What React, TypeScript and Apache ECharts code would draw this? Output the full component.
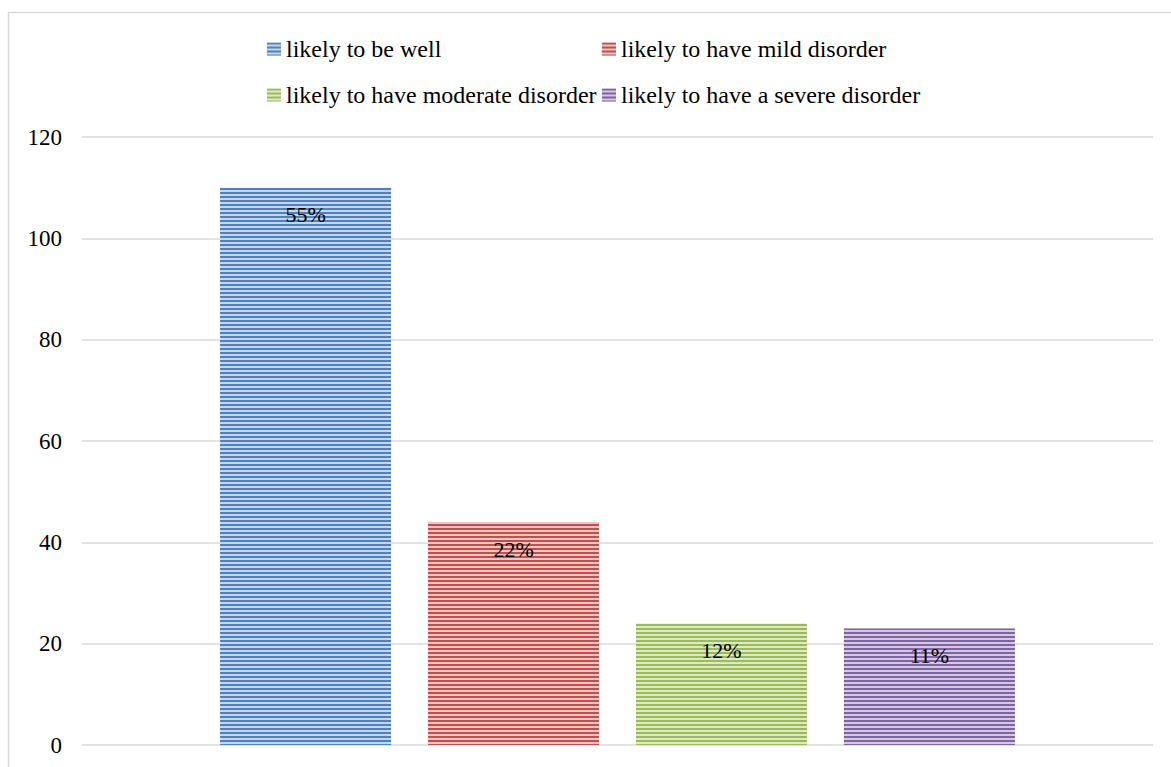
import React, { useEffect, useRef } from "react";
import * as echarts from "echarts";

const seriesNames = [
  "likely to be well",
  "likely to have mild disorder",
  "likely to have moderate disorder",
  "likely to have a severe disorder",
];
const values = [110, 44, 24, 23];
const percentLabels = ["55%", "22%", "12%", "11%"];
const darkColors = ["#4f81bd", "#c0504d", "#9bbb59", "#8064a2"];
const lightColors = ["#c5d5ea", "#ecc6c5", "#dde8c7", "#d4cae0"];
const yTicks = { min: 0, max: 120, interval: 20 };

const FONT = "Liberation Serif";

const legendPos = [
  { left: 267, top: 37 },
  { left: 602, top: 37 },
  { left: 267, top: 83 },
  { left: 602, top: 83 },
];

export default function App() {
  const ref = useRef<HTMLDivElement>(null);
  useEffect(() => {
    if (!ref.current) return;
    const chart = echarts.init(ref.current, undefined, { renderer: "svg" });
    const legTxt = { fontFamily: FONT, fontSize: 24, color: "#000", fontWeight: "normal" };
    chart.setOption({
      animation: false,
      backgroundColor: "#ffffff",
      textStyle: { fontFamily: FONT, color: "#000" },
      graphic: [
        {
          type: "rect",
          shape: { x: 8.5, y: 12.5, width: 1250, height: 850 },
          style: { fill: "none", stroke: "#d9d9d9", lineWidth: 1.5 },
          silent: true,
          z: 0,
        },
      ],
      legend: seriesNames.map((n, i) => ({
        data: [n],
        left: legendPos[i].left,
        top: legendPos[i].top,
        padding: 0,
        itemWidth: 14,
        itemHeight: 13,
        icon: "rect",
        selectedMode: false,
        textStyle: legTxt,
      })),
      grid: { left: 82, right: 18, top: 137, bottom: 22 },
      xAxis: {
        type: "category",
        data: [""],
        axisLine: { show: false },
        axisTick: { show: false },
        axisLabel: { show: false },
      },
      yAxis: {
        type: "value",
        min: yTicks.min,
        max: yTicks.max,
        interval: yTicks.interval,
        axisLine: { show: false },
        axisTick: { show: false },
        axisLabel: { fontFamily: FONT, fontSize: 23, color: "#000", margin: 20 },
        splitLine: { lineStyle: { color: "#d9d9d9", width: 1.5 } },
      },
      series: seriesNames.map((n, i) => ({
        type: "bar",
        name: n,
        data: [values[i]],
        barWidth: 171,
        barGap: "21.6%",
        itemStyle: {
          color: lightColors[i],
          decal: {
            symbol: "rect",
            color: darkColors[i],
            dashArrayX: [1, 0],
            dashArrayY: [2, 2],
            rotation: 0,
            symbolSize: 1,
          },
        },
        label: {
          show: true,
          position: "insideTop",
          distance: 16,
          formatter: () => percentLabels[i],
          fontFamily: FONT,
          fontSize: 22,
          color: "#000",
        },
      })),
    });
    return () => chart.dispose();
  }, []);
  return (
    <div style={{ position: "fixed", left: 0, top: 0, width: 1171, height: 767, overflow: "hidden", background: "#fff" }}>
      <div ref={ref} style={{ width: 1171, height: 767 }} />
    </div>
  );
}
